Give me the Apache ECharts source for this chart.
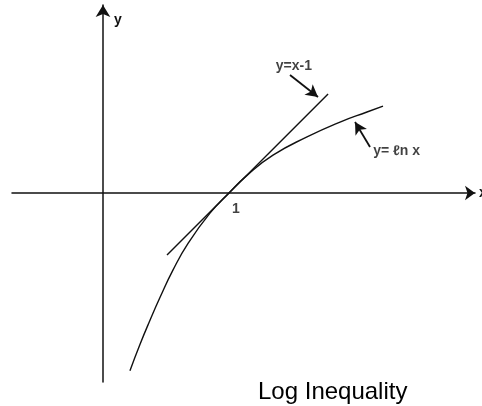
<!DOCTYPE html>
<html>
<head>
<meta charset="utf-8">
<script src="https://cdn.jsdelivr.net/npm/echarts@6/dist/echarts.min.js"></script>
<style>html,body{margin:0;padding:0;background:#fff}#c{width:482px;height:406px}</style>
</head>
<body>
<div id="c"></div>
<script>
// ---- data (math coordinates) ----
var lnCurveX = [0.214, 0.294, 0.373, 0.452, 0.556, 0.675, 0.849, 1.0, 1.143, 1.349, 1.619, 1.881, 2.095, 2.222];
var lnCurveY = [-1.41, -1.20, -1.01, -0.83, -0.61, -0.40, -0.16, 0.0, 0.14, 0.30, 0.445, 0.563, 0.643, 0.69];
var tangentX = [0.508, 1.786];
var tangentY = [-0.492, 0.786];
var tickLabels = ['1'];
var tickValues = [1];
var labelTexts = ['y=x-1', 'y= \u2113n x'];
var labelX = [1.515, 2.33];
var labelY = [1.008, 0.333];
var arrowFromX = [1.484, 2.119];
var arrowFromY = [0.937, 0.365];
var arrowToX = [1.706, 2.000];
var arrowToY = [0.762, 0.563];
var titleText = 'Log Inequality';
var axisNames = ['x', 'y'];

var ink = '#111';
var font = '"Liberation Sans", Arial, sans-serif';

var chart = echarts.init(document.getElementById('c'));
var curve = lnCurveX.map(function (x, i) { return [x, lnCurveY[i]]; });
var tangent = tangentX.map(function (x, i) { return [x, tangentY[i]]; });
var arrows = arrowFromX.map(function (x, i) {
  return [{ coord: [x, arrowFromY[i]] }, { coord: [arrowToX[i], arrowToY[i]] }];
});
var labels = labelTexts.map(function (t, i) {
  return { value: [labelX[i], labelY[i]], label: { formatter: t } };
});
var ticks = tickValues.map(function (v, i) {
  return { value: [v, 0], label: { formatter: tickLabels[i], offset: [7, 16], fontSize: 14 } };
});

chart.setOption({
  animation: false,
  backgroundColor: '#fff',
  title: {
    text: titleText, left: 253, top: 375,
    textStyle: { fontFamily: font, fontSize: 24, fontWeight: 'normal', color: '#000' }
  },
  grid: { left: 12, right: 7, top: 5, bottom: 24, containLabel: false, outerBoundsMode: 'none' },
  xAxis: {
    type: 'value', min: -0.722, max: 2.952,
    name: axisNames[0], nameLocation: 'end', nameGap: 4,
    nameTextStyle: { fontFamily: font, fontSize: 14, fontWeight: 'bold', color: ink },
    axisLine: { onZero: true, lineStyle: { color: ink, width: 1.5 }, symbol: ['none', 'arrow'], symbolSize: [11, 10] },
    axisTick: { show: false }, axisLabel: { show: false }, splitLine: { show: false }
  },
  yAxis: {
    type: 'value', min: -1.5, max: 1.492,
    name: axisNames[1], nameLocation: 'end', nameGap: -8,
    nameTextStyle: { fontFamily: font, fontSize: 14, fontWeight: 'bold', color: ink, align: 'left', verticalAlign: 'top', padding: [0, 0, 0, 11] },
    axisLine: { onZero: true, lineStyle: { color: ink, width: 1.5 }, symbol: ['none', 'arrow'], symbolSize: [11, 12] },
    axisTick: { show: false }, axisLabel: { show: false }, splitLine: { show: false }
  },
  series: [
    {
      type: 'line', data: curve, smooth: 0.5, showSymbol: false,
      lineStyle: { color: ink, width: 1.4 }
    },
    {
      type: 'line', data: tangent, showSymbol: false,
      lineStyle: { color: ink, width: 1.4 },
      markLine: {
        silent: true, symbol: ['none', 'arrow'], symbolSize: [10, 12],
        lineStyle: { color: ink, width: 1.8, type: 'solid' },
        label: { show: false },
        data: arrows
      }
    },
    {
      type: 'scatter', symbolSize: 0, silent: true,
      label: {
        show: true, position: 'inside', fontFamily: font, fontSize: 14, fontWeight: 'bold', color: ink
      },
      data: labels.concat(ticks)
    }
  ]
});
</script>
</body>
</html>
